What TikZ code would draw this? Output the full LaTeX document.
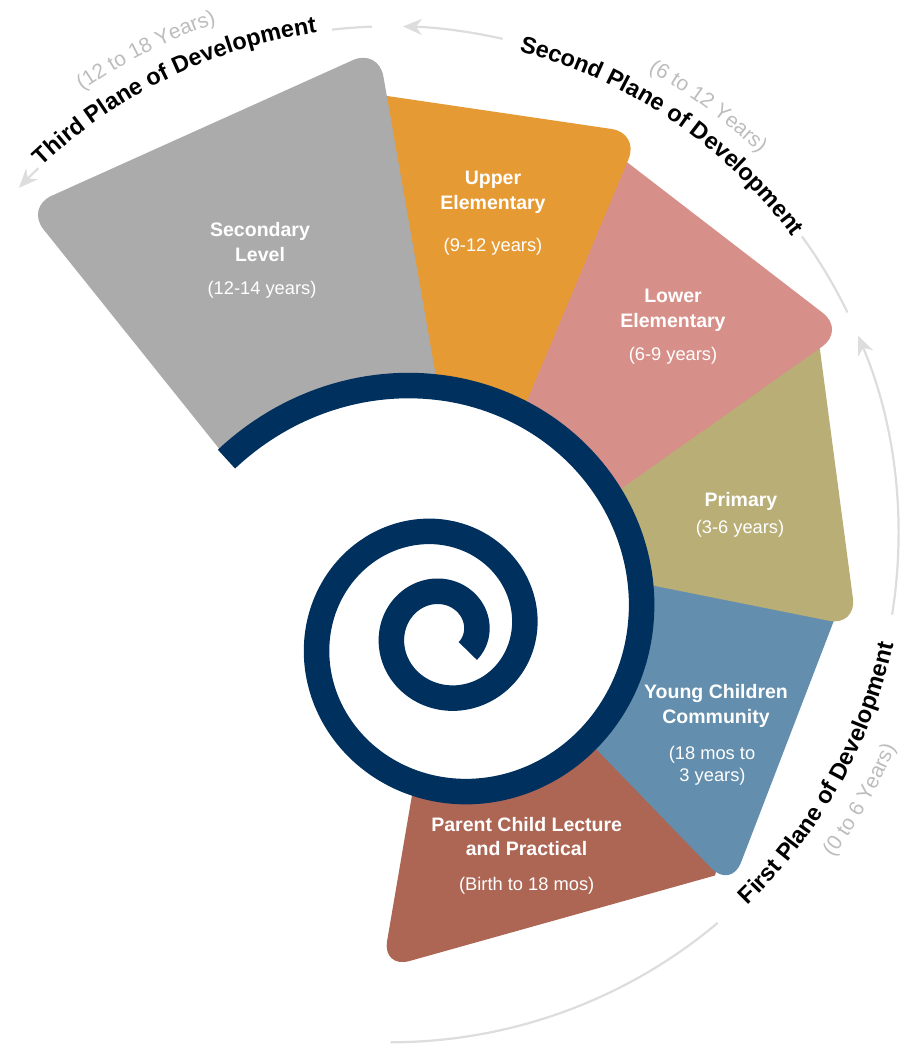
\documentclass[tikz,border=0pt]{standalone}
\usepackage{fontspec}
\setmainfont{Liberation Sans}
\usetikzlibrary{calc,decorations.text,arrows.meta}
\definecolor{navy}{HTML}{00305E}
\definecolor{wgray}{HTML}{ABABAB}
\definecolor{worange}{HTML}{E69A34}
\definecolor{wpink}{HTML}{D79089}
\definecolor{wkhaki}{HTML}{B8AE76}
\definecolor{wblue}{HTML}{638EAD}
\definecolor{wbrown}{HTML}{AD6554}
\definecolor{arcgray}{HTML}{DDDDDD}
\definecolor{yeargray}{HTML}{BDBDBD}
\newcommand\rcorn[3]{-- ($(#2)!28pt!(#1)$) .. controls ($(#2)!12.5pt!(#1)$) and ($(#2)!12.5pt!(#3)$) .. ($(#2)!28pt!(#3)$)}
\newcommand\blackcurve{\fontsize{23.5}{23.5}\selectfont\bfseries}
\newcommand\graycurve{\fontsize{21}{21}\selectfont}
\begin{document}
\begin{tikzpicture}[x=1pt,y=1pt,
  ttl/.style={text=white, font=\fontsize{19.5}{19.5}\selectfont\bfseries, anchor=base, inner sep=0pt},
  sub/.style={text=white, font=\fontsize{18.3}{18.3}\selectfont, anchor=base, inner sep=0pt},
  arcline/.style={draw=arcgray, line width=2.2pt},
  arcarrow/.style={arcline, -{Stealth[length=19pt,width=16pt,inset=6pt]}},
  spiralline/.style={draw=navy, line width=25.5pt, line join=round}]
\useasboundingbox (0,0) rectangle (923,1048);
\fill[white] (0,0) rectangle (923,1048);
% centres
\coordinate (S) at (443.5,415);
\coordinate (C) at (390.5,513.7);
% wedge vertices
\coordinate (G1) at (448.8,598);
\coordinate (G2) at (378.5,999.4);
\coordinate (G3) at (25.9,840.6);
\coordinate (G4) at (229,587);
\coordinate (O1) at (420,598);
\coordinate (O2) at (360,956);
\coordinate (O3) at (639.4,914.9);
\coordinate (O4) at (506.3,598);
\coordinate (P1) at (500,598);
\coordinate (P2) at (600,906.6);
\coordinate (P3) at (845.2,717.8);
\coordinate (P4) at (580,530.1);
\coordinate (K1) at (580,548);
\coordinate (K2) at (818,713);
\coordinate (K3) at (856.6,421.7);
\coordinate (K4) at (620,469);
\coordinate (B1) at (620,478);
\coordinate (B2) at (838,438);
\coordinate (B3) at (731,159.5);
\coordinate (B4) at (570,326);
\coordinate (R1) at (418,288);
\coordinate (R2) at (382.4,79.4);
\coordinate (R3) at (715,172.5);
\coordinate (R4) at (760,348);
% wedges, bottom to top
\fill[wbrown] (S) -- (R1) \rcorn{R1}{R2}{R3} -- (R3) -- (R4) -- cycle;
\fill[wblue] (S) -- (B1) -- (B2) \rcorn{B2}{B3}{B4} -- (B4) -- cycle;
\fill[wkhaki] (S) -- (K1) -- (K2) \rcorn{K2}{K3}{K4} -- (K4) -- cycle;
\fill[wpink] (S) -- (P1) -- (P2) \rcorn{P2}{P3}{P4} -- (P4) -- cycle;
\fill[worange] (S) -- (O1) -- (O2) \rcorn{O2}{O3}{O4} -- (O4) -- cycle;
\fill[wgray] (S) -- (G1) \rcorn{G1}{G2}{G3} \rcorn{G2}{G3}{G4} -- (G4) -- cycle;
% spiral
\fill[white] plot[domain=150:-210, samples=200] ({443.5+245*exp(0.0024794*(\x-90))*cos(\x)}, {415+245*exp(0.0024794*(\x-90))*sin(\x)}) -- cycle;
\draw[spiralline] plot[domain=141.3:-756.5, samples=500] ({443.5+245*exp(0.0024794*(\x-90))*cos(\x)}, {415+245*exp(0.0024794*(\x-90))*sin(\x)});
% wedge labels
\node[ttl] (sec1) at (260,811) {Secondary};
\node[ttl] (sec2) at (260,786) {Level};
\node[sub] (sec3) at (262,753) {(12-14 years)};
\node[ttl] (upp1) at (493,863) {Upper};
\node[ttl] (upp2) at (493,838) {Elementary};
\node[sub] (upp3) at (493,796) {(9-12 years)};
\node[ttl] (low1) at (673,745) {Lower};
\node[ttl] (low2) at (673,720) {Elementary};
\node[sub] (low3) at (673,687) {(6-9 years)};
\node[ttl] (pri1) at (741,541.3) {Primary};
\node[sub] (pri2) at (740,514.7) {(3-6 years)};
\node[ttl] (ycc1) at (716,349) {Young Children};
\node[ttl] (ycc2) at (716,324.7) {Community};
\node[sub] (ycc3) at (712,288) {(18 mos to};
\node[sub] (ycc4) at (712.5,266.3) {3 years)};
\node[ttl] (pcl1) at (526.7,216.3) {Parent Child Lecture};
\node[ttl] (pcl2) at (526.5,192) {and Practical};
\node[sub] (pcl3) at (526.7,157) {(Birth to 18 mos)};
% outer arcs
\draw[arcline] ($(C)+(-90:508)$) arc[start angle=-90,end angle=-49.9,radius=508];
\draw[arcarrow] ($(C)+(-9.1:508)$) arc[start angle=-9.1,end angle=23,radius=508];
\draw[arcline] ($(C)+(25.9:508)$) arc[start angle=25.9,end angle=35.9,radius=508];
\draw[arcarrow] ($(C)+(77.25:508)$) arc[start angle=77.25,end angle=88.6,radius=508];
\draw[arcline] ($(C)+(92.1:508)$) arc[start angle=92.1,end angle=96.6,radius=508];
\draw[arcarrow] ($(C)+(133.9:508)$) arc[start angle=133.9,end angle=137,radius=508];
% curved titles
\path[decorate, decoration={text along path, text align=center, text color=black, text={|\blackcurve|Third Plane of Development}}] ($(C)+(145.9:507)$) arc[start angle=145.9,end angle=85.9,radius=507];
\path[decorate, decoration={text along path, text align=center, text color=yeargray, text={|\graycurve|(12 to 18 Years)}}] ($(C)+(146.8:540)$) arc[start angle=146.8,end angle=86.8,radius=540];
\path[decorate, decoration={text along path, text align=center, text color=black, text={|\blackcurve|Second Plane of Development}}] ($(C)+(85.8:500)$) arc[start angle=85.8,end angle=25.8,radius=500];
\path[decorate, decoration={text along path, text align=center, text color=yeargray, text={|\graycurve|(6 to 12 Years)}}] ($(C)+(83.4:530)$) arc[start angle=83.4,end angle=23.4,radius=530];
\path[decorate, decoration={text along path, text align=center, text color=black, text={|\blackcurve|First Plane of Development}}] ($(C)+(-59.2:515)$) arc[start angle=-59.2,end angle=0.8,radius=515];
\path[decorate, decoration={text along path, text align=center, text color=yeargray, text={|\graycurve|(0 to 6 Years)}}] ($(C)+(-59.5:548)$) arc[start angle=-59.5,end angle=0.5,radius=548];
\end{tikzpicture}
\end{document}
